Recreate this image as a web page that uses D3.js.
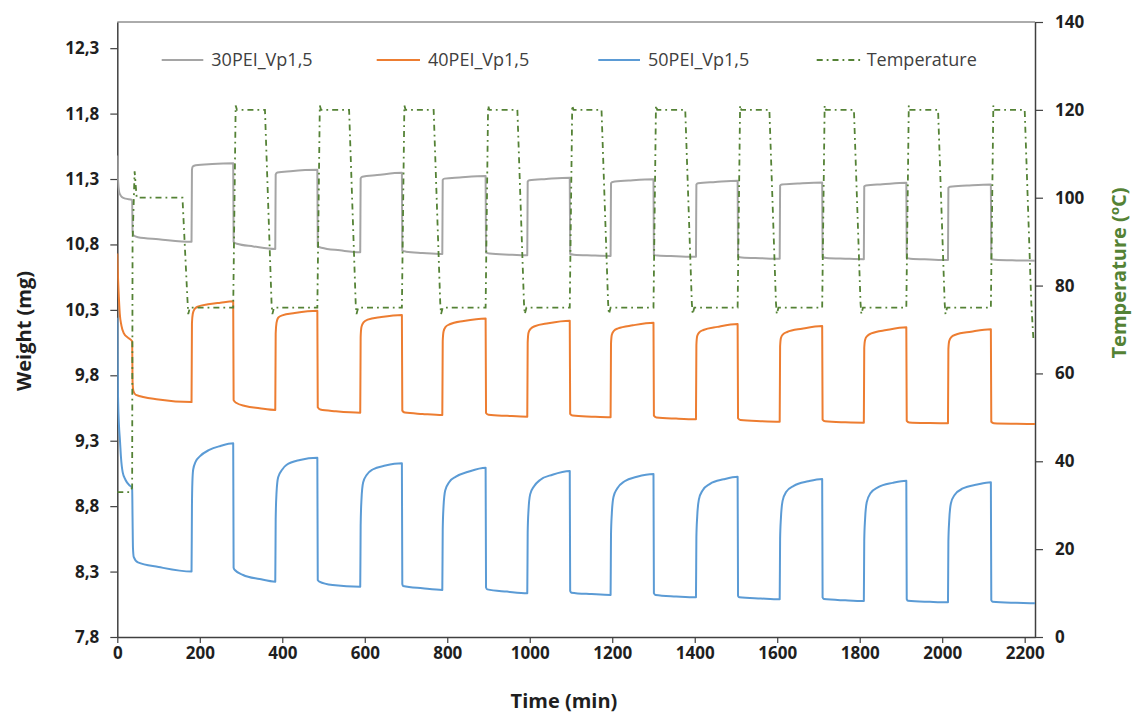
<!DOCTYPE html>
<html>
<head>
<meta charset="utf-8">
<script src="https://cdn.jsdelivr.net/npm/d3@7"></script>
<style>
  body { margin: 0; background: #fff; }
  svg { display: block; font-family: "Open Sans", "DejaVu Sans", sans-serif; }
</style>
</head>
<body>
<svg id="chart" width="1134" height="715"></svg>
<script>
// ---- Axis ticks ----
const timeTicks = [0, 200, 400, 600, 800, 1000, 1200, 1400, 1600, 1800, 2000, 2200];
const weightTicks = [7.8, 8.3, 8.8, 9.3, 9.8, 10.3, 10.8, 11.3, 11.8, 12.3];
const tempTicks = [0, 20, 40, 60, 80, 100, 120, 140];

// ---- Series: [time (min), weight (mg)] ----
const pei30 = [
  [0,11.48],[1,11.36],[2,11.28],[4,11.21],[7,11.18],[12,11.16],[20,11.15],[36,11.14],
  [37,10.90],[39,10.87],[50,10.855],[100,10.84],[180,10.82],
  [181,11.37],[183,11.395],[190,11.405],[230,11.415],[281,11.42],
  [282,10.82],[290,10.805],[330,10.785],[383,10.765],
  [384,11.335],[388,11.35],[420,11.36],[485,11.37],
  [486,10.785],[495,10.775],[540,10.755],[589,10.74],
  [590,11.305],[594,11.318],[630,11.33],[690,11.348],
  [691,10.752],[700,10.745],[740,10.735],[788,10.727],
  [789,11.292],[793,11.303],[830,11.312],[893,11.323],
  [894,10.737],[903,10.731],[950,10.722],[994,10.717],
  [995,11.28],[999,11.29],[1040,11.30],[1097,11.31],
  [1098,10.727],[1107,10.722],[1150,10.716],[1196,10.712],
  [1197,11.268],[1201,11.278],[1240,11.288],[1300,11.298],
  [1301,10.72],[1310,10.715],[1355,10.71],[1403,10.706],
  [1404,11.258],[1408,11.267],[1450,11.277],[1504,11.287],
  [1505,10.706],[1514,10.70],[1560,10.695],[1606,10.691],
  [1607,11.25],[1611,11.258],[1650,11.266],[1709,11.274],
  [1710,10.702],[1719,10.697],[1765,10.691],[1810,10.687],
  [1811,11.243],[1815,11.251],[1855,11.26],[1913,11.272],
  [1914,10.697],[1923,10.691],[1970,10.685],[2014,10.681],
  [2015,11.233],[2019,11.241],[2060,11.25],[2118,11.259],
  [2119,10.687],[2128,10.683],[2180,10.678],[2225,10.676]
];

const pei40 = [
  [0,10.73],[1,10.62],[2,10.52],[4,10.38],[6,10.27],[10,10.18],[16,10.12],[25,10.09],[36,10.06],
  [37,9.75],[39,9.68],[45,9.65],[100,9.615],[180,9.595],
  [181,10.20],[183,10.27],[187,10.305],[195,10.325],[220,10.343],[250,10.355],[281,10.365],
  [282,9.61],[288,9.59],[310,9.565],[345,9.548],[383,9.535],
  [384,10.12],[386,10.20],[390,10.24],[400,10.258],[430,10.276],[485,10.294],
  [486,9.555],[492,9.538],[530,9.525],[589,9.514],
  [590,10.09],[592,10.17],[597,10.205],[607,10.225],[640,10.245],[690,10.261],
  [691,9.53],[697,9.515],[740,9.505],[788,9.497],
  [789,10.06],[791,10.135],[796,10.17],[806,10.19],[840,10.215],[893,10.235],
  [894,9.512],[900,9.498],[945,9.49],[994,9.484],
  [995,10.05],[997,10.125],[1002,10.155],[1012,10.175],[1045,10.198],[1097,10.217],
  [1098,9.505],[1104,9.492],[1150,9.484],[1196,9.479],
  [1197,10.04],[1199,10.11],[1204,10.14],[1214,10.158],[1250,10.182],[1300,10.202],
  [1301,9.492],[1307,9.478],[1355,9.469],[1403,9.464],
  [1404,10.03],[1406,10.10],[1411,10.128],[1421,10.146],[1455,10.17],[1504,10.192],
  [1505,9.472],[1511,9.458],[1560,9.449],[1606,9.445],
  [1607,10.02],[1609,10.085],[1614,10.113],[1624,10.131],[1660,10.156],[1709,10.177],
  [1710,9.461],[1716,9.448],[1765,9.441],[1810,9.438],
  [1811,10.01],[1813,10.07],[1818,10.10],[1828,10.12],[1865,10.146],[1913,10.167],
  [1914,9.452],[1920,9.44],[1970,9.435],[2014,9.433],
  [2015,10.00],[2017,10.062],[2022,10.092],[2032,10.11],[2070,10.133],[2118,10.152],
  [2119,9.445],[2125,9.434],[2180,9.43],[2225,9.428]
];

const pei50 = [
  [0,10.24],[0.5,10.0],[1,9.8],[2,9.6],[4,9.42],[6.5,9.3],[9,9.17],[13,9.06],[20,9.0],[31,8.955],[36,8.94],
  [37,8.70],[38,8.48],[40,8.41],[50,8.37],[100,8.335],[180,8.30],
  [181,8.80],[182,8.98],[184,9.08],[190,9.14],[200,9.18],[223,9.23],[250,9.26],[281,9.28],
  [282,8.33],[285,8.312],[305,8.274],[345,8.243],[383,8.223],
  [384,8.70],[386,8.90],[390,9.02],[400,9.08],[410,9.114],[443,9.153],[485,9.17],
  [486,8.235],[490,8.223],[522,8.197],[589,8.184],
  [590,8.65],[592,8.85],[596,8.98],[605,9.04],[619,9.08],[650,9.11],[690,9.127],
  [691,8.205],[693,8.19],[740,8.172],[788,8.159],
  [789,8.62],[791,8.80],[795,8.92],[805,8.985],[821,9.025],[851,9.063],[893,9.094],
  [894,8.178],[897,8.164],[945,8.147],[994,8.134],
  [995,8.60],[997,8.77],[1001,8.89],[1010,8.95],[1025,9.0],[1055,9.04],[1097,9.069],
  [1098,8.152],[1101,8.139],[1150,8.128],[1196,8.121],
  [1197,8.58],[1199,8.745],[1203,8.87],[1212,8.935],[1230,8.99],[1260,9.025],[1300,9.046],
  [1301,8.135],[1305,8.121],[1355,8.11],[1403,8.103],
  [1404,8.56],[1406,8.72],[1410,8.85],[1419,8.92],[1437,8.97],[1470,9.005],[1504,9.025],
  [1505,8.115],[1508,8.103],[1560,8.094],[1606,8.088],
  [1607,8.55],[1609,8.71],[1613,8.84],[1622,8.91],[1640,8.955],[1675,8.99],[1709,9.008],
  [1710,8.102],[1713,8.09],[1765,8.08],[1810,8.075],
  [1811,8.54],[1813,8.70],[1817,8.83],[1826,8.898],[1845,8.945],[1880,8.978],[1913,8.995],
  [1914,8.09],[1917,8.077],[1970,8.069],[2014,8.065],
  [2015,8.53],[2017,8.69],[2021,8.82],[2030,8.885],[2050,8.935],[2085,8.965],[2118,8.982],
  [2119,8.082],[2122,8.07],[2180,8.061],[2225,8.057]
];

// ---- Temperature: [time (min), °C] ----
const temperature = [
  [0,33],[31,33],[36,34],[37,90],[42,106],[47,100],[158,100],[170,77],[172,73.5],[176,75],
  [281,75],[287,121],[290,120],[358,120],[374,76],[376,73.5],[380,75],
  [485,75],[491,121],[494,120],[562,120],[578,76],[580,73.5],[584,75],
  [690,75],[696,121],[699,120],[767,120],[783,76],[785,73.5],[789,75],
  [893,75],[899,121],[902,120],[970,120],[986,76],[988,73.5],[992,75],
  [1097,75],[1103,121],[1106,120],[1174,120],[1190,76],[1192,73.5],[1196,75],
  [1300,75],[1306,121],[1309,120],[1377,120],[1393,76],[1395,73.5],[1399,75],
  [1504,75],[1510,121],[1513,120],[1581,120],[1597,76],[1599,73.5],[1603,75],
  [1709,75],[1715,121],[1718,120],[1786,120],[1802,76],[1804,73.5],[1808,75],
  [1913,75],[1919,121],[1922,120],[1990,120],[2006,76],[2008,73.5],[2012,75],
  [2118,75],[2124,121],[2127,120],[2200,120],[2216,76],[2221,68]
];

const seriesNames = ["30PEI_Vp1,5", "40PEI_Vp1,5", "50PEI_Vp1,5", "Temperature"];
const seriesColors = ["#a5a5a5", "#ed7d31", "#5b9bd5", "#548235"];

// ---- Layout ----
const svg = d3.select("#chart");
const plotLeft = 117.3, plotRight = 1035, plotTop = 22, plotBottom = 637;

const x = d3.scaleLinear().domain([0, 2225]).range([plotLeft, plotRight]);
const yL = d3.scaleLinear().domain([7.8, 12.5]).range([plotBottom, plotTop]);
const yR = d3.scaleLinear().domain([0, 140]).range([plotBottom, plotTop]);

svg.append("rect").attr("width", 1134).attr("height", 715).attr("fill", "#fff");

svg.append("defs").append("clipPath").attr("id", "plot")
  .append("rect").attr("x", plotLeft).attr("y", plotTop)
  .attr("width", plotRight - plotLeft).attr("height", plotBottom - plotTop);

// plot area top border
svg.append("line")
  .attr("x1", plotLeft).attr("x2", plotRight).attr("y1", plotTop).attr("y2", plotTop)
  .attr("stroke", "#595959").attr("stroke-width", 1);

const axisColor = "#404040";
const labelColor = "#1f1f1f";

function styleAxis(g) {
  g.select(".domain").attr("stroke", axisColor).attr("stroke-width", 1.5);
  g.selectAll(".tick line").attr("stroke", axisColor).attr("stroke-width", 1.2);
  g.selectAll(".tick text")
    .attr("fill", labelColor)
    .style("font-size", "17px")
    .style("font-weight", "700")
    .style("font-family", "'Open Sans', sans-serif");
}

// left axis: weight
svg.append("g")
  .attr("transform", `translate(${plotLeft},0)`)
  .call(d3.axisLeft(yL).tickValues(weightTicks)
    .tickFormat(d => d.toFixed(1).replace(".", ","))
    .tickSize(7).tickSizeOuter(0).tickPadding(11))
  .call(styleAxis);

// right axis: temperature
svg.append("g")
  .attr("transform", `translate(${plotRight},0)`)
  .call(d3.axisRight(yR).tickValues(tempTicks)
    .tickFormat(d3.format("d"))
    .tickSize(8).tickSizeOuter(0).tickPadding(12))
  .call(styleAxis);

// bottom axis: time
svg.append("g")
  .attr("transform", `translate(0,${plotBottom})`)
  .call(d3.axisBottom(x).tickValues(timeTicks)
    .tickFormat(d3.format("d"))
    .tickSize(6).tickSizeOuter(0).tickPadding(4))
  .call(styleAxis);

// ---- Lines ----
const plot = svg.append("g").attr("clip-path", "url(#plot)");

const weightLine = d3.line()
  .x(d => x(d[0])).y(d => yL(d[1]))
  .curve(d3.curveMonotoneX);

[pei30, pei40, pei50].forEach((s, i) => {
  plot.append("path")
    .datum(s)
    .attr("d", weightLine)
    .attr("fill", "none")
    .attr("stroke", seriesColors[i])
    .attr("stroke-width", 2)
    .attr("stroke-linejoin", "round");
});

const tempLine = d3.line().x(d => x(d[0])).y(d => yR(d[1]));
plot.append("path")
  .datum(temperature)
  .attr("d", tempLine)
  .attr("fill", "none")
  .attr("stroke", seriesColors[3])
  .attr("stroke-width", 1.8)
  .attr("stroke-dasharray", "6,4,1.8,4");

// ---- Legend ----
const legendX = [161.7, 376.7, 598.3, 816.7];
const legendLen = [41.6, 43.3, 41.7, 45];
const legendY = 60;
const legend = svg.append("g");
seriesNames.forEach((name, i) => {
  const ln = legend.append("line")
    .attr("x1", legendX[i]).attr("x2", legendX[i] + legendLen[i])
    .attr("y1", legendY).attr("y2", legendY)
    .attr("stroke", seriesColors[i])
    .attr("stroke-width", i === 3 ? 1.8 : 2);
  if (i === 3) ln.attr("stroke-dasharray", "6,4,1.8,4");
  legend.append("text")
    .attr("x", legendX[i] + legendLen[i] + (i === 3 ? 5 : 8))
    .attr("y", legendY + 6)
    .attr("fill", "#404040")
    .style("font-size", "18px")
    .text(name);
});

// ---- Axis titles ----
svg.append("text")
  .attr("x", 564).attr("y", 708)
  .attr("text-anchor", "middle")
  .attr("fill", labelColor)
  .style("font-size", "20px").style("font-weight", "700")
  .text("Time (min)");

svg.append("text")
  .attr("transform", "translate(31,331) rotate(-90)")
  .attr("text-anchor", "middle")
  .attr("fill", labelColor)
  .style("font-size", "20px").style("font-weight", "700")
  .text("Weight (mg)");

const tTitle = svg.append("text")
  .attr("transform", "translate(1126,273) rotate(-90)")
  .attr("text-anchor", "middle")
  .attr("fill", "#548235")
  .style("font-size", "20px").style("font-weight", "700");
tTitle.append("tspan").text("Temperature (");
tTitle.append("tspan").attr("dy", -7).style("font-size", "13px").text("o");
tTitle.append("tspan").attr("dy", 7).text("C)");
</script>
</body>
</html>
